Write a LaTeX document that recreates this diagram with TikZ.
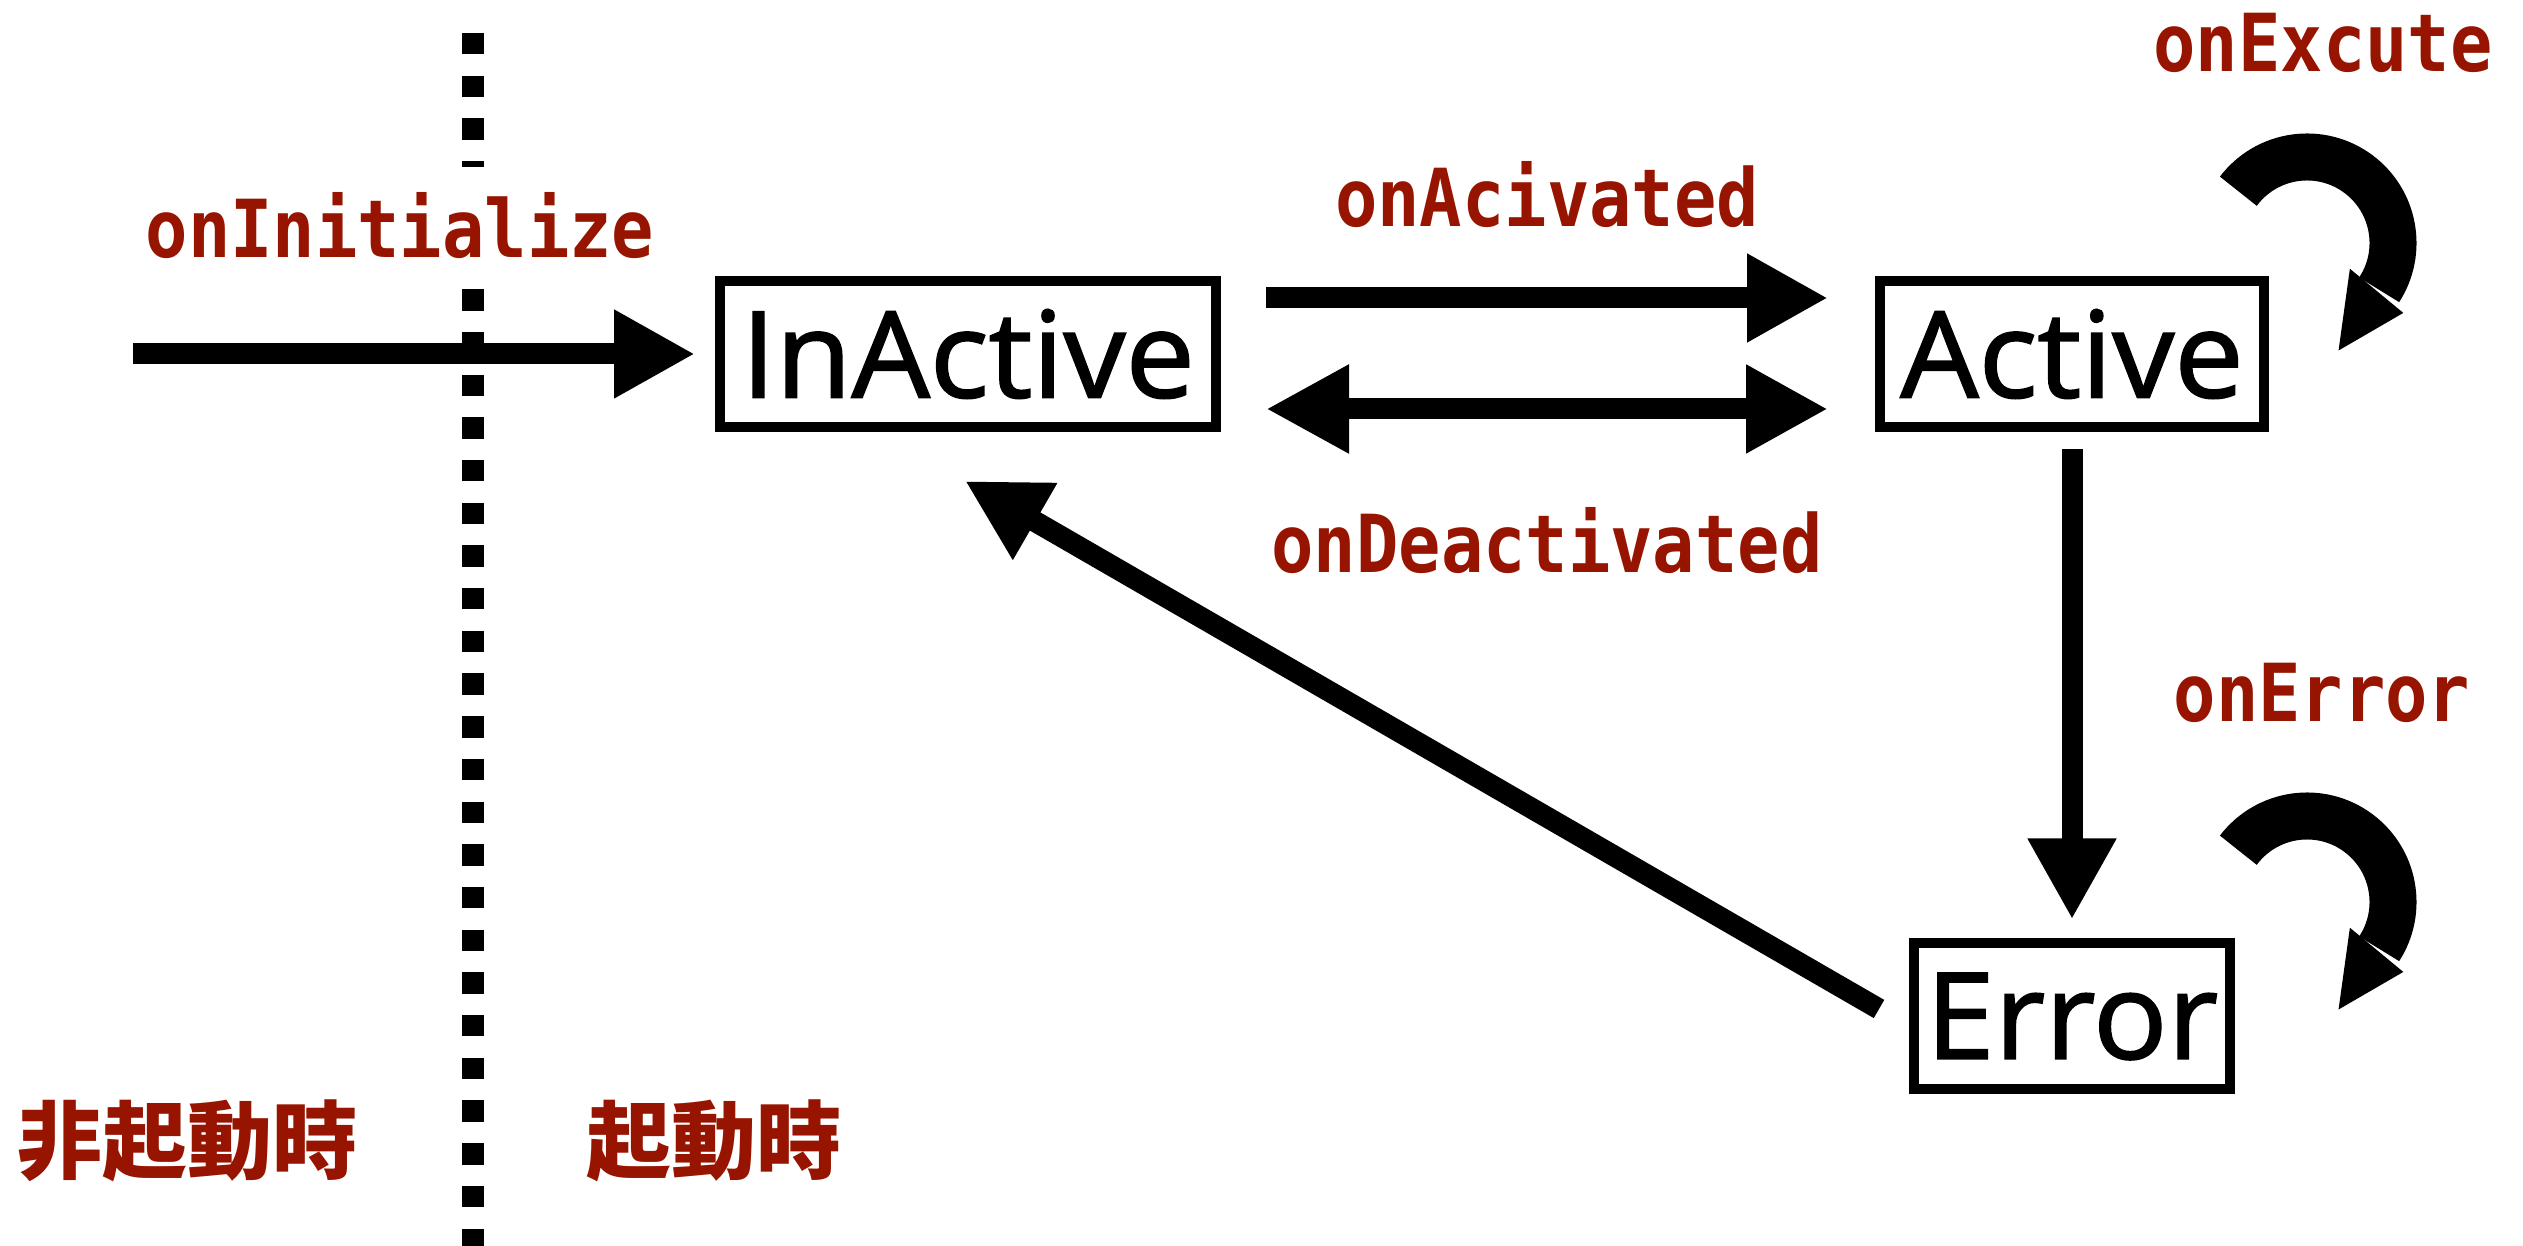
\documentclass[tikz,border=0pt]{standalone}
\usepackage{fontspec}
\setmainfont{Open Sans}[FakeStretch=1.03,FakeBold=1.5]
\newfontfamily\labfont[FakeStretch=0.88]{DejaVu Sans Mono}
\newfontfamily\cjk{Noto Sans CJK TC}
\usetikzlibrary{arrows.meta,calc}
\definecolor{labred}{RGB}{150,20,0}
\begin{document}
\begin{tikzpicture}[x=1pt,y=1pt,
  state/.style={draw, line width=10pt, inner sep=0pt, outer sep=5pt,
    font=\fontsize{120}{130}\selectfont, minimum height=146pt},
  arr/.style={line width=21pt, -{Triangle[length=81pt,width=83pt]}},
  darr/.style={line width=21pt, {Triangle[length=83pt,width=83pt]}-{Triangle[length=82pt,width=83pt]}},
  lbl/.style={text=labred, font=\labfont\bfseries\fontsize{80}{90}\selectfont, inner sep=0pt, anchor=base},
  cjklbl/.style={text=labred, font=\cjk\bfseries\fontsize{85}{95}\selectfont, inner sep=0pt},
  divider/.style={line width=22pt, dash pattern=on 21.35pt off 21.35pt},
  loopband/.style={line width=47pt}]
\useasboundingbox (0,0) rectangle (2523,1246);

% divider line
\coordinate (d1) at (473,1213);
\coordinate (d2) at (473,1079);
\coordinate (d3) at (473,956.8);
\coordinate (d4) at (473,0);
\draw[divider] (d1) -- (d2);
\draw[divider] (d3) -- (d4);

% states
\node[state, minimum width=496pt] (inact) at (968,892) {InActive};
\node[state, minimum width=384pt] (act) at (2072,892) {Active};
\node[state, minimum width=316pt] (err) at (2072,229.5) {Error};

% connectors
\coordinate (start) at (133,892);
\draw[arr, shorten >=20pt] (start) -- (inact.west);
\draw[arr] ($(inact.east)+(45,56)$) -- ($(act.west)+(-47,56)$);
\draw[darr] ($(inact.east)+(45,-55)$) -- ($(act.west)+(-47,-55)$);
\draw[arr] ($(act.south)+(0,-17)$) -- ($(err.north)+(0,19)$);
\draw[arr] ($(err.west)+(-30,7.5)$) -- ($(inact.south)+(-3,-49)$);

% self loops
\coordinate (c1) at ($(act.center)+(235,111)$);
\draw[loopband] ($(c1)+(143:86pt)$) arc[start angle=143, end angle=-33, radius=86pt];
\fill ($(c1)+(-31:50pt)$) -- ($(c1)+(-36:119pt)$) -- ($(c1)+(-33:85pt)+(-123:73pt)$) -- cycle;

\coordinate (c2) at ($(err.center)+(235,114.5)$);
\draw[loopband] ($(c2)+(143:86pt)$) arc[start angle=143, end angle=-33, radius=86pt];
\fill ($(c2)+(-31:50pt)$) -- ($(c2)+(-36:119pt)$) -- ($(c2)+(-33:85pt)+(-123:73pt)$) -- cycle;

% labels
\node[lbl] (linit) at (400,988) {onInitialize};
\node[lbl] (lact) at (1547,1019) {onAcivated};
\node[lbl] (lexe) at (2323,1174) {onExcute};
\node[lbl] (ldeact) at (1547,673) {onDeactivated};
\node[lbl] (lerr) at (2322,524) {onError};
\node[cjklbl] (loff) at (187,105) {非起動時};
\node[cjklbl] (lon) at (714,105) {起動時};
\end{tikzpicture}
\end{document}
